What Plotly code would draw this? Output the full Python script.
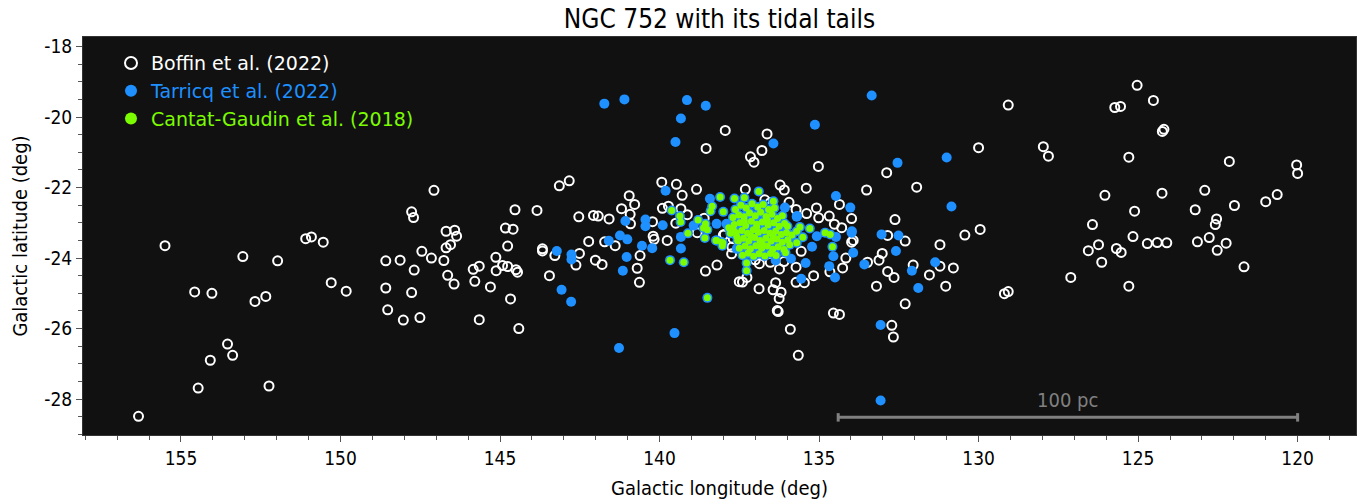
import plotly.graph_objects as go

# ---------------- data (galactic lon, lat in deg) ----------------
boffin_lon = [155.5, 154.57, 154.03, 152.68, 152.34, 153.06, 151.97, 153.54, 153.38, 154.08,
              154.46, 152.24, 156.33, 151.09, 150.91, 150.54, 150.29, 149.82, 148.58, 148.13,
              148.58, 148.52, 148.03, 147.77, 147.51, 147.69, 147.45, 147.15, 146.76, 146.64,
              146.44, 146.69, 146.55, 146.69, 146.36, 145.84, 145.79, 145.65, 145.65, 147.07,
              147.77, 147.71, 146.42, 145.13, 145.3, 144.92, 144.76, 145.12, 144.5, 144.45,
              144.76, 144.83, 144.59, 144.53, 143.84, 143.67, 143.67, 143.45, 144.67, 144.41,
              143.28, 142.51, 142.62, 142.22, 142.01, 141.8, 141.72, 141.39, 140.61, 140.7,
              140.63, 140.2, 140.17, 139.76, 138.56, 138.2, 138.0, 137.4, 137.26, 136.88,
              136.36, 136.19, 136.44, 136.25, 136.31, 136.28, 135.9, 135.65, 135.72, 135.46,
              135.17, 135.56, 135.72, 134.66, 134.55, 134.36, 134.26, 134.16, 133.98, 133.93,
              133.48, 133.2, 133.12, 133.02, 132.72, 132.67, 132.85, 132.3, 132.85, 132.65,
              132.3, 132.05, 131.21, 130.43, 129.95, 131.21, 130.79, 131.54, 131.03, 129.19,
              129.07, 127.11, 126.56, 126.24, 126.14, 125.68, 125.53, 125.29, 125.16, 124.71,
              124.4, 124.1, 123.14, 122.77, 122.52, 122.24, 121.68, 125.03, 124.52, 125.73,
              125.55, 124.19, 124.24, 127.97, 127.81, 125.29, 122.14, 120.03, 120.0, 126.04,
              124.25, 122.91, 123.21, 121.98, 121.0, 120.64, 125.11, 126.43, 122.54, 122.58,
              129.07, 130.0, 131.94, 132.88, 133.51, 132.62, 137.94, 136.63, 138.54, 137.15,
              137.04, 136.79, 135.02, 143.14, 142.83, 142.53, 142.07, 141.92, 141.58, 141.19,
              140.95, 140.78, 140.92, 140.91, 139.93, 139.47, 139.29, 138.84, 139.91, 139.33,
              139.49, 139.13, 140.22, 137.31, 136.22, 136.09, 135.4, 135.94, 135.72, 135.08,
              135.01, 134.68, 134.36, 133.98, 135.39, 134.52, 134.29, 139.72, 138.82, 138.6,
              137.73, 137.74, 136.53, 136.87, 136.53, 136.24, 137.37, 137.69, 137.97, 137.5,
              136.1, 137.0, 136.7]
boffin_lat = [-23.65, -24.96, -25.0, -25.23, -25.09, -23.96, -24.08, -26.44, -26.76, -26.9,
              -27.69, -27.63, -28.49, -23.45, -23.4, -23.55, -24.7, -24.94, -24.08, -24.06,
              -24.85, -25.47, -25.76, -24.98, -25.69, -24.34, -23.81, -24.0, -24.07, -24.49,
              -24.74, -23.71, -23.62, -23.24, -23.38, -24.32, -24.66, -24.23, -25.75, -22.08,
              -22.69, -22.85, -23.21, -23.98, -24.82, -24.21, -24.24, -24.36, -24.33, -24.4,
              -23.66, -23.15, -23.18, -22.63, -22.65, -23.74, -23.8, -24.5, -25.16, -26.0,
              -23.93, -23.87, -24.2, -23.53, -24.06, -24.18, -23.54, -23.65, -23.93, -24.29,
              -24.69, -23.38, -23.47, -23.5, -24.37, -24.2, -23.35, -24.68, -24.55, -24.87,
              -24.7, -24.97, -24.9, -25.15, -25.49, -25.52, -26.02, -26.76, -24.69, -24.7,
              -24.5, -23.81, -24.26, -24.39, -25.56, -25.6, -24.28, -24.0, -23.55, -23.5,
              -24.12, -24.8, -24.06, -23.87, -25.91, -26.24, -23.36, -23.52, -24.38, -24.55,
              -25.3, -24.2, -23.62, -23.35, -23.19, -24.23, -24.28, -24.48, -24.8, -25.01,
              -24.95, -24.55, -23.79, -23.62, -24.12, -23.73, -23.84, -24.8, -23.39, -23.59,
              -23.56, -23.57, -23.54, -23.42, -23.78, -23.58, -24.25, -19.1, -19.53, -19.73,
              -19.7, -20.35, -20.41, -20.84, -21.11, -21.14, -21.26, -21.36, -21.6, -22.22,
              -22.16, -22.08, -22.63, -22.51, -22.4, -22.2, -22.67, -23.05, -22.89, -23.05,
              -19.66, -20.87, -21.99, -21.58, -22.07, -22.91, -20.38, -20.48, -20.89, -21.13,
              -21.28, -20.95, -21.4, -21.95, -21.81, -22.83, -22.79, -22.81, -22.89, -22.6,
              -22.23, -22.48, -22.76, -23.03, -21.85, -21.91, -22.22, -22.05, -22.59, -22.6,
              -23.01, -22.77, -22.97, -22.05, -21.93, -22.07, -22.02, -22.42, -22.62, -22.58,
              -22.86, -22.81, -22.48, -22.88, -22.74, -23.04, -23.14, -22.53, -23.28, -22.87,
              -23.69, -23.88, -22.43, -24.16, -24.12, -24.31, -23.47, -23.45, -23.33, -24.67,
              -24.1, -24.05, -22.35]

tarricq_lon = [141.73, 141.1, 139.14, 138.55, 139.33, 139.5, 133.35, 135.13, 136.43, 132.54,
               139.81, 138.42, 134.47, 134.02, 136.07, 135.69, 141.07, 140.44, 140.44, 139.9,
               138.93, 138.21, 133.97, 131.0, 130.85, 143.22, 142.76, 142.76, 143.07, 142.77,
               141.59, 141.03, 141.15, 140.55, 140.23, 139.33, 139.33, 139.53, 141.27, 135.56,
               135.42, 135.88, 135.22, 135.07, 134.68, 134.5, 134.55, 133.93, 133.98, 134.47,
               133.58, 133.07, 133.07, 133.04, 132.51, 132.59, 132.09, 131.89, 131.36, 141.24,
               141.01, 137.9, 137.58, 136.36, 135.7]
tarricq_lat = [-19.62, -19.5, -19.52, -19.68, -20.04, -20.71, -19.39, -20.22, -20.75, -21.3,
               -22.09, -22.32, -22.24, -22.57, -22.57, -22.81, -22.95, -22.91, -23.1, -23.07,
               -23.08, -23.03, -23.24, -21.15, -22.54, -23.8, -23.9, -24.04, -24.9, -25.24,
               -23.51, -23.97, -24.36, -23.65, -23.72, -23.4, -23.73, -26.13, -26.55, -24.59,
               -24.14, -24.02, -23.68, -23.38, -24.23, -24.55, -23.95, -23.85, -23.28, -23.4,
               -24.18, -25.9, -28.04, -23.33, -23.36, -23.8, -24.36, -24.85, -24.12, -23.36,
               -23.47, -23.03, -23.74, -24.07, -22.83]

cantat_lon = [139.62, 139.36, 139.34, 139.11, 138.79, 138.57, 138.5, 138.62, 138.35, 138.4,
              138.1, 137.65, 137.34, 138.0, 137.83, 137.69, 138.21, 138.05, 138.03, 139.67,
              139.24, 138.5, 137.58, 137.53, 136.89, 136.43, 138.56, 138.58, 138.23, 138.02,
              135.99, 135.7, 135.6, 135.29, 135.51, 135.7, 134.81, 134.65, 134.58, 137.27,
              137.27,
              137.62, 137.45, 137.28, 137.1, 136.92, 136.75, 136.58, 136.4,
              137.7, 137.52, 137.35, 137.18, 137.0, 136.83, 136.66, 136.48, 136.3, 136.15,
              137.66, 137.48, 137.3, 137.12, 136.95, 136.78, 136.6, 136.42, 136.25, 136.08,
              137.6, 137.42, 137.24, 137.06, 136.9, 136.72, 136.54, 136.36, 136.18, 136.02,
              137.55, 137.37, 137.2, 137.02, 136.85, 136.67, 136.5, 136.32, 136.15, 135.98,
              137.5, 137.32, 137.15, 136.98, 136.8, 136.62, 136.45, 136.28, 136.1,
              137.4, 137.22, 137.05, 136.88, 136.7, 136.52, 136.35,
              137.14, 136.96, 136.78, 136.62, 137.34, 136.44, 135.85, 135.92, 136.05, 137.78]
cantat_lat = [-22.65, -22.81, -22.98, -23.3, -22.92, -23.1, -23.2, -23.15, -22.53, -22.67,
              -22.27, -22.31, -22.29, -22.69, -23.14, -23.19, -23.5, -23.55, -23.65, -24.06,
              -24.12, -25.13, -23.38, -23.52, -22.11, -22.39, -23.03, -23.43, -23.5, -23.57,
              -23.1, -23.24, -23.12, -23.16, -23.41, -23.57, -23.28, -23.33, -23.68, -24.14,
              -24.36,
              -22.62, -22.5, -22.58, -22.46, -22.55, -22.48, -22.62, -22.58,
              -22.85, -22.78, -22.83, -22.72, -22.8, -22.7, -22.82, -22.76, -22.88, -22.8,
              -23.05, -23.0, -23.08, -22.96, -23.04, -22.98, -23.06, -23.0, -23.1, -23.02,
              -23.28, -23.22, -23.3, -23.2, -23.27, -23.22, -23.3, -23.24, -23.33, -23.28,
              -23.5, -23.44, -23.52, -23.42, -23.5, -23.44, -23.52, -23.46, -23.55, -23.48,
              -23.72, -23.66, -23.74, -23.65, -23.72, -23.66, -23.75, -23.68, -23.76,
              -23.92, -23.86, -23.95, -23.88, -23.94, -23.87, -23.93,
              -23.37, -23.13, -23.6, -22.92, -22.95, -23.38, -23.35, -23.62, -23.85, -23.3]

x_tickvals = [155, 150, 145, 140, 135, 130, 125, 120]
x_ticktext = ["155", "150", "145", "140", "135", "130", "125", "120"]
y_tickvals = [-28, -26, -24, -22, -20, -18]
y_ticktext = ["-28", "-26", "-24", "-22", "-20", "-18"]

scalebar_lon = [134.4, 120.0]
scalebar_lat = -28.52
scalebar_label = "100 pc"

# ---------------- figure ----------------
WHITE = "#ffffff"
BLUE = "#1e90ff"
GREEN = "#7cfc00"
LEGFONT = "DejaVu Sans"
AXFONT = "DejaVu Sans Condensed, DejaVu Sans"
W, H = 1368, 501

fig = go.Figure()

fig.add_trace(go.Scatter(
    x=boffin_lon, y=boffin_lat, mode="markers",
    name=f"<span style='color:{WHITE}'>Boffin et al. (2022)</span>",
    marker=dict(symbol="circle-open", size=9, color=WHITE, line=dict(width=2, color=WHITE)),
))
fig.add_trace(go.Scatter(
    x=tarricq_lon + cantat_lon, y=tarricq_lat + cantat_lat, mode="markers",
    name=f"<span style='color:{BLUE}'>Tarricq et al. (2022)</span>",
    marker=dict(symbol="circle", size=10, color=BLUE, line=dict(width=0)),
))
fig.add_trace(go.Scatter(
    x=cantat_lon, y=cantat_lat, mode="markers",
    name=f"<span style='color:{GREEN}'>Cantat-Gaudin et al. (2018)</span>",
    marker=dict(symbol="circle", size=7, color=GREEN, line=dict(width=0)),
))

# scale bar
fig.add_shape(type="line", xref="x", yref="y",
              x0=scalebar_lon[0], x1=scalebar_lon[1], y0=scalebar_lat, y1=scalebar_lat,
              line=dict(color="#808080", width=3))
for lon in scalebar_lon:
    fig.add_shape(type="line", xref="x", yref="y",
                  x0=lon, x1=lon, y0=scalebar_lat - 0.12, y1=scalebar_lat + 0.12,
                  line=dict(color="#808080", width=3))
fig.add_annotation(x=(scalebar_lon[0] + scalebar_lon[1]) / 2, y=scalebar_lat,
                   xref="x", yref="y", text=scalebar_label, showarrow=False,
                   yanchor="bottom", yshift=3,
                   font=dict(family=AXFONT, size=20, color="#808080"))

fig.update_layout(
    width=W, height=H,
    paper_bgcolor="white", plot_bgcolor="#111111",
    margin=dict(l=83, r=12, t=37, b=66, autoexpand=False),
    title=dict(text="NGC 752 with its tidal tails", x=(83 + 636.5) / W, xanchor="center",
               y=1 - 19 / H, yanchor="middle",
               font=dict(family=AXFONT, size=26, color="black")),
    showlegend=True,
    legend=dict(x=0.022, y=0.982, xanchor="left", yanchor="top",
                bgcolor="rgba(0,0,0,0)", borderwidth=0,
                font=dict(family=LEGFONT, size=19),
                itemsizing="constant", tracegroupgap=6),
    font=dict(family=AXFONT),
)

fig.update_xaxes(
    range=[158.07, 118.17], autorange=False, automargin=False,
    tickmode="array", tickvals=x_tickvals, ticktext=x_ticktext,
    ticks="outside", ticklen=6, tickwidth=1, tickcolor="#555555",
    minor=dict(dtick=1, ticks="outside", ticklen=4, tickcolor="#555555", showgrid=False),
    showgrid=False, zeroline=False,
    showline=True, linecolor="#333333", linewidth=1, mirror=True,
    tickfont=dict(family=AXFONT, size=19, color="black"),
    title=dict(text="Galactic longitude (deg)", font=dict(family=AXFONT, size=20, color="black"),
               standoff=13),
)
fig.update_yaxes(
    range=[-29.02, -17.73], autorange=False, automargin=False,
    tickmode="array", tickvals=y_tickvals, ticktext=y_ticktext,
    ticks="outside", ticklen=6, tickwidth=1, tickcolor="#555555",
    minor=dict(dtick=0.5, ticks="outside", ticklen=4, tickcolor="#555555", showgrid=False),
    showgrid=False, zeroline=False,
    showline=True, linecolor="#333333", linewidth=1, mirror=True,
    tickfont=dict(family=AXFONT, size=19, color="black"),
    title=dict(text="Galactic latitude (deg)", font=dict(family=AXFONT, size=20, color="black"),
               standoff=11),
)

# remove the default 8 px body margin so the figure fills the 1368x501 window
fig.write_html("out.html", config={"displayModeBar": False},
               post_script="document.body.style.margin='0';")
